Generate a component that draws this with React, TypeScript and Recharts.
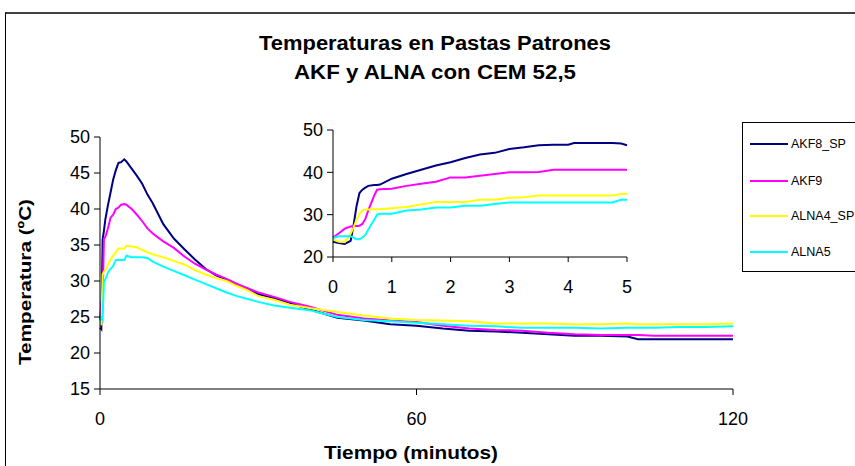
import React from "react";
import { LineChart, Line, XAxis, YAxis } from "recharts";

// ---- Main chart (0-120 min) ----
const mainTimes = [0, 0.25, 0.5, 0.75, 1, 1.5, 2, 2.5, 3, 3.5, 4, 4.6, 5, 6, 7, 8, 9, 10, 12, 14, 16, 18, 20, 22, 24, 26, 28, 30, 33, 36, 40, 45, 50, 55, 60, 65, 70, 75, 80, 85, 90, 95, 100, 102, 105, 110, 115, 120];
const akf8Main = [23.5, 23.3, 35.8, 37.0, 38.5, 40.5, 42.3, 44.1, 45.4, 46.4, 46.5, 46.9, 46.6, 45.6, 44.6, 43.5, 42.0, 40.8, 37.9, 35.9, 34.4, 33.0, 31.7, 30.8, 30.2, 29.5, 28.9, 28.2, 27.6, 26.9, 26.0, 24.9, 24.5, 24.0, 23.8, 23.4, 23.1, 23.0, 22.8, 22.6, 22.4, 22.4, 22.3, 21.9, 21.9, 21.9, 21.9, 21.9];
const akf9Main = [24.6, 26.9, 27.6, 35.9, 36.1, 37.3, 38.8, 39.2, 40.0, 40.2, 40.6, 40.7, 40.6, 40.0, 39.2, 38.3, 37.3, 36.6, 35.5, 34.6, 33.4, 32.4, 31.6, 30.9, 30.3, 29.6, 29.0, 28.4, 27.8, 27.1, 26.4, 25.3, 24.8, 24.5, 24.3, 23.8, 23.4, 23.2, 23.1, 22.8, 22.6, 22.5, 22.5, 22.5, 22.4, 22.4, 22.4, 22.4];
const alna4Main = [24.1, 24.0, 30.9, 31.3, 31.5, 32.3, 33.0, 33.5, 34.0, 34.5, 34.5, 34.5, 34.9, 34.8, 34.7, 34.3, 34.0, 33.7, 33.3, 32.8, 32.3, 31.5, 30.9, 30.4, 30.0, 29.3, 28.7, 27.9, 27.4, 26.7, 26.2, 25.7, 25.2, 24.8, 24.6, 24.5, 24.4, 24.1, 24.1, 24.1, 24.0, 24.0, 24.1, 24.0, 24.0, 24.0, 24.0, 24.1];
const alna5Main = [24.5, 24.9, 24.6, 30.0, 30.2, 31.2, 31.7, 32.1, 32.9, 32.9, 32.9, 32.9, 33.5, 33.3, 33.3, 33.3, 33.2, 32.7, 32.0, 31.4, 30.8, 30.2, 29.6, 29.0, 28.4, 27.9, 27.5, 27.1, 26.6, 26.3, 25.9, 25.0, 24.6, 24.4, 24.2, 24.0, 23.8, 23.7, 23.5, 23.5, 23.5, 23.4, 23.5, 23.5, 23.5, 23.6, 23.6, 23.7];

// ---- Inset (0-5 min) ----
const insetTimes = [0, 0.1, 0.2, 0.3, 0.35, 0.4, 0.45, 0.5, 0.55, 0.6, 0.7, 0.75, 0.8, 1, 1.25, 1.5, 1.75, 2, 2.25, 2.5, 2.75, 3, 3.25, 3.5, 3.75, 4, 4.1, 4.5, 4.75, 4.9, 5];
const akf8Inset = [23.6, 23.3, 23.1, 23.8, 27.5, 32.0, 35.1, 35.9, 36.4, 36.8, 37.0, 37.0, 37.1, 38.5, 39.6, 40.6, 41.6, 42.4, 43.4, 44.2, 44.6, 45.5, 45.9, 46.4, 46.5, 46.5, 46.9, 46.9, 46.9, 46.8, 46.4];
const akf9Inset = [24.6, 25.6, 26.7, 27.2, 27.3, 27.3, 27.4, 27.8, 29.0, 31.0, 34.5, 35.9, 36.0, 36.1, 36.8, 37.3, 37.8, 38.8, 38.8, 39.2, 39.6, 40.0, 40.0, 40.1, 40.6, 40.6, 40.6, 40.6, 40.6, 40.6, 40.6];
const alna4Inset = [24.1, 23.6, 23.5, 25.5, 27.0, 28.8, 30.2, 31.0, 31.2, 31.2, 31.3, 31.3, 31.3, 31.5, 31.8, 32.4, 33.0, 33.0, 33.0, 33.5, 33.5, 34.0, 34.1, 34.5, 34.5, 34.5, 34.5, 34.5, 34.5, 34.9, 34.9];
const alna5Inset = [24.5, 24.9, 24.9, 24.9, 24.6, 24.2, 24.2, 24.6, 25.2, 26.5, 28.8, 30.0, 30.2, 30.2, 31.0, 31.2, 31.7, 31.7, 32.1, 32.1, 32.5, 32.9, 32.9, 32.9, 32.9, 32.9, 32.9, 32.9, 32.9, 33.5, 33.5];

const seriesNames = ["AKF8_SP", "AKF9", "ALNA4_SP", "ALNA5"];
const seriesColors = ["#000080", "#FF00FF", "#FFFF00", "#00FFFF"];
const seriesKeys = ["akf8", "akf9", "alna4", "alna5"];

const mainXTicks = [0, 60, 120];
const mainYTicks = [15, 20, 25, 30, 35, 40, 45, 50];
const insetXTicks = [0, 1, 2, 3, 4, 5];
const insetYTicks = [20, 30, 40, 50];

const titleLines = ["Temperaturas en Pastas Patrones", "AKF y ALNA con CEM 52,5"];
const xTitle = "Tiempo (minutos)";
const yTitle = "Temperatura (ºC)";

const mainData = mainTimes.map((t, i) => ({
  t,
  akf8: akf8Main[i],
  akf9: akf9Main[i],
  alna4: alna4Main[i],
  alna5: alna5Main[i],
}));
const insetData = insetTimes.map((t, i) => ({
  t,
  akf8: akf8Inset[i],
  akf9: akf9Inset[i],
  alna4: alna4Inset[i],
  alna5: alna5Inset[i],
}));

const FONT = "'Liberation Sans', Arial, sans-serif";
const tickStyle = { fontSize: 18, fill: "#000", fontFamily: FONT };

export default function App() {
  return (
    <div
      style={{
        position: "absolute",
        left: 0,
        top: 0,
        width: 855,
        height: 466,
        background: "#fff",
        overflow: "hidden",
        fontFamily: FONT,
      }}
    >
      {/* outer frame */}
      <div
        style={{
          position: "absolute",
          left: 5,
          top: 12,
          width: 900,
          height: 500,
          borderLeft: "1px solid #000",
          borderTop: "2px solid #404040",
        }}
      />
      {/* titles & axis titles */}
      <svg width={855} height={466} style={{ position: "absolute", left: 0, top: 0 }}>
        <text x={435} y={50} textAnchor="middle" fontSize={20} fontWeight="bold" fontFamily={FONT} fill="#000" textLength={352} lengthAdjust="spacingAndGlyphs">
          {titleLines[0]}
        </text>
        <text x={435} y={79} textAnchor="middle" fontSize={20} fontWeight="bold" fontFamily={FONT} fill="#000" textLength={282} lengthAdjust="spacingAndGlyphs">
          {titleLines[1]}
        </text>
        <text x={411} y={459} textAnchor="middle" fontSize={19} fontWeight="bold" fontFamily={FONT} fill="#000" textLength={174} lengthAdjust="spacingAndGlyphs">
          {xTitle}
        </text>
        <text
          x={0}
          y={0}
          transform="translate(31,282) rotate(-90)"
          textAnchor="middle"
          fontSize={17}
          fontWeight="bold"
          fontFamily={FONT}
          fill="#000"
          textLength={166}
          lengthAdjust="spacingAndGlyphs"
        >
          {yTitle}
        </text>
      </svg>

      {/* main chart */}
      <div style={{ position: "absolute", left: 0, top: 0 }}>
        <LineChart
          width={855}
          height={466}
          data={mainData}
          margin={{ top: 137, right: 122, bottom: 47, left: 60 }}
        >
          <XAxis
            dataKey="t"
            type="number"
            domain={[0, 120]}
            ticks={mainXTicks}
            interval={0}
            height={30}
            tickSize={6}
            tickMargin={17}
            stroke="#000"
            tick={tickStyle}
          />
          <YAxis
            type="number"
            domain={[15, 50]}
            ticks={mainYTicks}
            interval={0}
            width={40}
            tickSize={6}
            tickMargin={4}
            stroke="#000"
            tick={tickStyle}
          />
          {seriesKeys.map((k, i) => (
            <Line
              key={k}
              dataKey={k}
              name={seriesNames[i]}
              stroke={seriesColors[i]}
              strokeWidth={2}
              dot={false}
              type="linear"
              isAnimationActive={false}
            />
          ))}
        </LineChart>
      </div>

      {/* inset chart */}
      <div style={{ position: "absolute", left: 0, top: 0 }}>
        <LineChart
          width={855}
          height={466}
          data={insetData}
          margin={{ top: 130, right: 228, bottom: 179, left: 293 }}
        >
          <XAxis
            dataKey="t"
            type="number"
            domain={[0, 5]}
            ticks={insetXTicks}
            interval={0}
            height={30}
            tickSize={5}
            tickMargin={18}
            stroke="#000"
            tick={tickStyle}
          />
          <YAxis
            type="number"
            domain={[20, 50]}
            ticks={insetYTicks}
            interval={0}
            width={40}
            tickSize={6}
            tickMargin={4}
            stroke="#000"
            tick={tickStyle}
          />
          {seriesKeys.map((k, i) => (
            <Line
              key={k}
              dataKey={k}
              name={seriesNames[i]}
              stroke={seriesColors[i]}
              strokeWidth={2}
              dot={false}
              type="linear"
              isAnimationActive={false}
            />
          ))}
        </LineChart>
      </div>

      {/* legend */}
      <div
        style={{
          position: "absolute",
          left: 742,
          top: 122,
          width: 200,
          height: 148,
          border: "1px solid #000",
          background: "#fff",
        }}
      >
        {seriesNames.map((n, i) => (
          <div
            key={n}
            style={{
              position: "absolute",
              left: 7,
              top: [21, 58, 93, 129][i] - 9,
              height: 18,
              display: "flex",
              alignItems: "center",
              fontSize: 12.5,
              color: "#000",
              whiteSpace: "nowrap",
            }}
          >
            <span
              style={{
                display: "inline-block",
                width: 38,
                height: 2,
                background: seriesColors[i],
                marginRight: 3,
              }}
            />
            {n}
          </div>
        ))}
      </div>
    </div>
  );
}
